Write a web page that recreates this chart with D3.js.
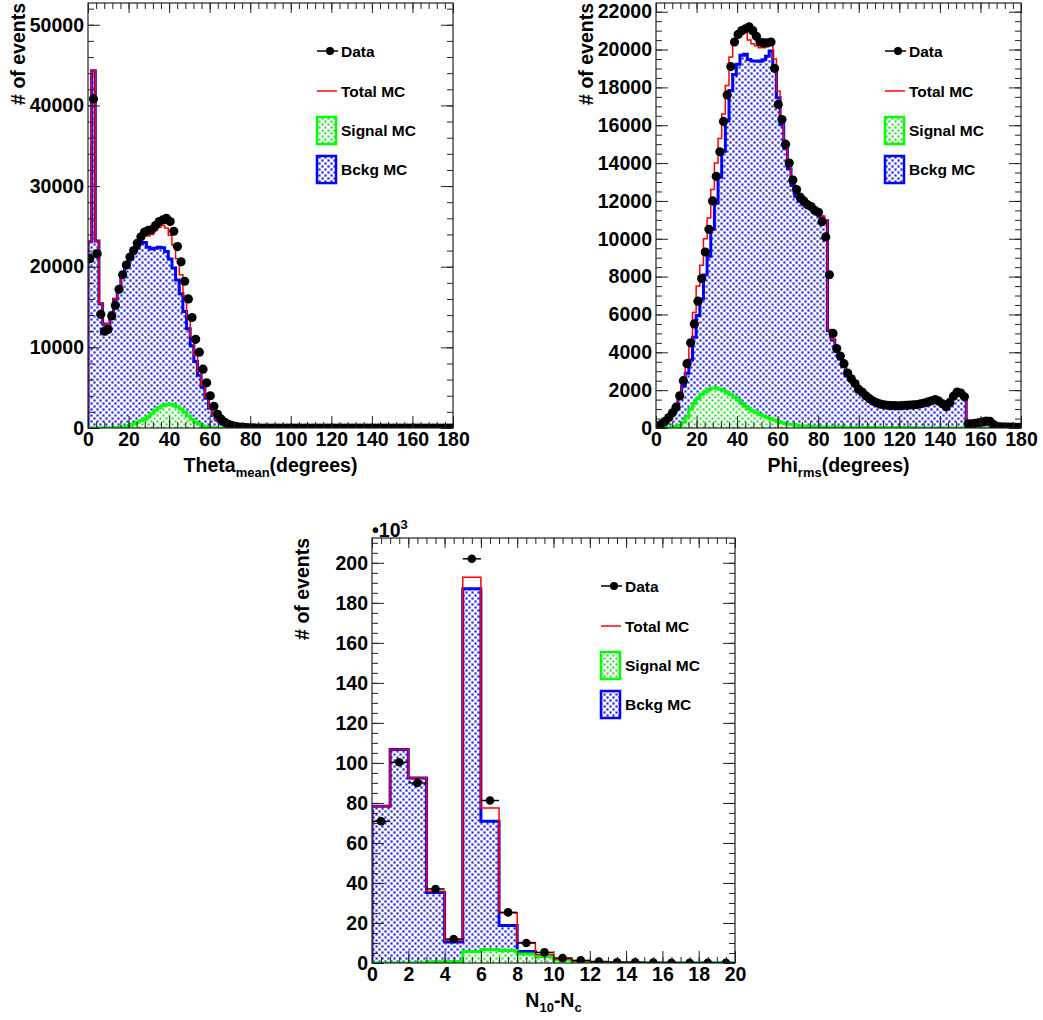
<!DOCTYPE html>
<html><head><meta charset="utf-8">
<script src="https://cdn.jsdelivr.net/npm/d3@7"></script>
<style>
body{margin:0;background:#fff;}
svg text{font-family:"Liberation Sans",Arial,sans-serif;font-weight:bold;fill:#000;}
</style></head><body>
<svg id="c" width="1043" height="1020"></svg>
<script>
// ---------- Theta_mean panel (100 bins, 0-180 deg) ----------
const thetaData = [21000,40800,21600,14100,12000,12200,13900,15200,17200,19000,20200,21200,22000,22900,23700,24300,24500,24600,25100,25600,25800,26000,25600,24400,22500,20600,18200,16000,13700,11000,9400,7300,5600,4000,2700,1700,1100,700,450,300,200,120,80,50,30,20,
0,0,0,0,0,0,0,0,0,0,0,0,0,0,0,0,0,0,0,0,0,0,0,0,0,0,0,0,0,0,0,0,0,0,0,0,0,0,0,0,0,0,0,0,0,0,0,0,0,0,0,0,0,0];
const thetaTotal = [23100,44300,23200,15400,12900,12800,14300,16000,17300,19200,20400,21300,22300,23000,23800,24100,23800,24000,24500,24900,25100,24800,23900,22700,21000,19000,16400,13800,11300,9000,7000,5300,3800,2500,1600,1000,600,400,250,150,100,70,50,30,20,10,
0,0,0,0,0,0,0,0,0,0,0,0,0,0,0,0,0,0,0,0,0,0,0,0,0,0,0,0,0,0,0,0,0,0,0,0,0,0,0,0,0,0,0,0,0,0,0,0,0,0,0,0,0,0];
const thetaSignal = [0,0,0,0,10,20,30,50,70,100,200,300,500,700,900,1100,1400,1800,2200,2500,2750,2900,2950,2850,2650,2350,1950,1500,1100,750,450,250,120,60,30,10,0,0,0,0,0,0,0,0,0,0,
0,0,0,0,0,0,0,0,0,0,0,0,0,0,0,0,0,0,0,0,0,0,0,0,0,0,0,0,0,0,0,0,0,0,0,0,0,0,0,0,0,0,0,0,0,0,0,0,0,0,0,0,0,0];
const thetaBkg = [23100,44300,23200,15400,12890,12780,14270,15950,17230,19100,20200,21000,21800,22300,22900,23000,22400,22200,22300,22400,22350,21900,20950,19850,18350,16650,14450,12300,10200,8250,6550,5050,3680,2440,1570,990,600,400,250,150,100,70,50,30,20,10,
0,0,0,0,0,0,0,0,0,0,0,0,0,0,0,0,0,0,0,0,0,0,0,0,0,0,0,0,0,0,0,0,0,0,0,0,0,0,0,0,0,0,0,0,0,0,0,0,0,0,0,0,0,0];

// ---------- Phi_rms panel (100 bins, 0-180 deg) ----------
const phiData = [120,200,350,550,800,1100,1700,2500,3400,4500,5500,6700,7900,9300,10500,12000,13300,14600,16200,17600,19100,20400,20800,21000,21100,21200,21000,20700,20400,20350,20350,20400,19000,17100,16300,15000,14000,13100,12600,12200,12000,11800,11700,11500,11400,10900,10100,8100,5000,4200,
3800,3400,2900,2600,2350,2050,1900,1700,1550,1420,1330,1260,1220,1200,1180,1180,1170,1190,1200,1210,1220,1240,1280,1320,1380,1440,1500,1420,1280,1120,1350,1680,1900,1850,1650,220,220,250,280,320,360,350,180,80,60,50,50,50,40,40];
const phiTotal = [150,200,350,500,850,1200,1700,2500,3500,4600,6100,7500,8600,10000,11100,12600,14000,15300,16600,18100,19600,20300,20700,21000,20900,20500,20300,20200,20100,20100,20200,20400,19500,17800,16300,15000,13900,13000,12400,12100,11900,11800,11700,11600,11400,11200,11000,5200,4700,4100,
3700,3300,2800,2550,2300,2000,1850,1670,1500,1380,1300,1230,1200,1180,1150,1150,1150,1170,1180,1180,1180,1200,1250,1290,1350,1400,1460,1400,1250,1080,1300,1650,1850,1800,1600,200,200,220,260,300,350,330,150,50,40,40,40,40,40,40];
const phiSignal = [0,0,10,20,40,80,150,300,600,1000,1300,1550,1780,1920,2030,2100,2120,2050,1970,1880,1760,1620,1480,1300,1150,1020,900,800,720,640,560,480,420,350,280,240,200,180,150,120,100,90,80,70,60,50,50,50,50,50,
50,45,45,45,40,40,40,40,35,35,35,30,30,30,30,25,25,25,25,20,20,0,0,0,0,0,0,0,0,0,0,0,0,0,0,0,0,0,0,0,0,0,0,0,0,0,0,0,0,0];
const phiBkg = [150,200,340,480,810,1120,1550,2200,2900,3600,4800,5950,6820,8080,9070,10500,11880,13250,14630,16220,17840,18680,19220,19700,19750,19480,19400,19400,19380,19460,19640,19920,19080,17450,16020,14760,13700,12820,12250,11980,11800,11710,11620,11530,11340,11150,10950,5150,4650,4050,
3650,3255,2755,2505,2260,1960,1810,1630,1465,1345,1265,1200,1170,1150,1120,1125,1125,1145,1155,1160,1160,1200,1250,1290,1350,1400,1460,1400,1250,1080,1300,1650,1850,1800,1600,200,200,220,260,300,350,330,150,50,40,40,40,40,40,40];

// ---------- N10-Nc panel (20 bins, 0-20) ----------
const nData   = [70800,100300,90000,37000,12000,202000,81200,25300,10000,5300,2500,1300,700,400,300,200,150,100,100,100];
const nTotal  = [78300,106700,92500,35800,11300,192800,77500,25000,10300,4200,2000,1000,500,300,200,100,100,50,50,30];
const nSignal = [0,0,100,600,800,5800,6700,6200,4500,3300,1500,800,400,200,100,50,50,20,20,10];
const nBkg    = [78300,106700,92400,35200,10500,187000,70800,18800,5800,900,500,200,100,100,100,50,50,30,30,20];

// tick labels
const thetaXTicks = [0,20,40,60,80,100,120,140,160,180];
const thetaYTicks = [0,10000,20000,30000,40000,50000];
const phiXTicks = [0,20,40,60,80,100,120,140,160,180];
const phiYTicks = [0,2000,4000,6000,8000,10000,12000,14000,16000,18000,20000,22000];
const nXTicks = [0,2,4,6,8,10,12,14,16,18,20];
const nYTicks = [0,20000,40000,60000,80000,100000,120000,140000,160000,180000,200000];
const legendLabels = ["Data","Total MC","Signal MC","Bckg MC"];

const svg = d3.select("#c");
const defs = svg.append("defs");
function makePattern(id, light, dark){
  const p = defs.append("pattern").attr("id",id).attr("patternUnits","userSpaceOnUse").attr("width",6).attr("height",6);
  p.append("rect").attr("width",6).attr("height",6).attr("fill","#fff");
  p.append("rect").attr("x",0).attr("y",0).attr("width",3).attr("height",3).attr("fill",light);
  p.append("rect").attr("x",3).attr("y",3).attr("width",3).attr("height",3).attr("fill",light);
  p.append("rect").attr("x",0.75).attr("y",0.75).attr("width",1.5).attr("height",1.5).attr("fill",dark);
  p.append("rect").attr("x",3.75).attr("y",3.75).attr("width",1.5).attr("height",1.5).attr("fill",dark);
}
makePattern("pBlue","#aaaaff","#1a1ae6");
makePattern("pGreen","#b0f5b0","#28d828");

function range(a,b,s){const r=[];for(let v=a;v<=b+1e-9;v+=s)r.push(+v.toFixed(6));return r;}

let clipId=0;
function panel(c){
  const L=c.L,R=c.R,T=c.T,B=c.B;
  const x=d3.scaleLinear().domain(c.xDom).range([L,R]);
  const y=d3.scaleLinear().domain([0,c.yMax]).range([B,T]);
  const g=svg.append("g");
  const cid="clip"+(clipId++);
  defs.append("clipPath").attr("id",cid).append("rect").attr("x",L).attr("y",T).attr("width",R-L).attr("height",B-T);
  const n=c.data.length, w=(c.xDom[1]-c.xDom[0])/n;
  const lo=i=>c.xDom[0]+i*w, hi=i=>c.xDom[0]+(i+1)*w;
  function steps(vals){
    const pts=[[x(c.xDom[0]),y(0)]];
    vals.forEach((v,i)=>{pts.push([x(lo(i)),y(v)]);pts.push([x(hi(i)),y(v)]);});
    pts.push([x(c.xDom[1]),y(0)]);
    return pts;
  }
  const line=d3.line();
  const hg=g.append("g").attr("clip-path",`url(#${cid})`);
  hg.append("path").attr("d",line(steps(c.bkg))+"Z").attr("fill","url(#pBlue)").attr("stroke","none");
  hg.append("path").attr("d",line(steps(c.bkg))).attr("fill","none").attr("stroke","#0000ff").attr("stroke-width",3).attr("stroke-linejoin","miter");
  hg.append("path").attr("d",line(steps(c.signal))+"Z").attr("fill","url(#pGreen)").attr("stroke","none");
  hg.append("path").attr("d",line(steps(c.signal))).attr("fill","none").attr("stroke","#00ff00").attr("stroke-width",3);
  hg.append("path").attr("d",line(steps(c.total))).attr("fill","none").attr("stroke","#ff0000").attr("stroke-width",1.5);
  const dg=g.append("g").attr("clip-path",`url(#${cid})`);
  c.data.forEach((v,i)=>{
    if(c.errX){
      dg.append("line").attr("x1",x(lo(i))).attr("x2",x(hi(i))).attr("y1",y(v)).attr("y2",y(v)).attr("stroke","#000").attr("stroke-width",1.5);
    }
    dg.append("circle").attr("cx",x((lo(i)+hi(i))/2)).attr("cy",y(v)).attr("r",c.r).attr("fill","#000");
  });
  // axes
  const ax=g.append("g");
  const xMinor=range(c.xDom[0],c.xDom[1],c.xMinor), yMinor=range(0,c.yMax,c.yMinor);
  const xt=12, xm=6, yt=12, ym=6;
  ax.append("g").attr("transform",`translate(0,${B})`).call(d3.axisBottom(x).tickValues(xMinor).tickSizeInner(-xm).tickSizeOuter(0).tickFormat(""));
  ax.append("g").attr("transform",`translate(0,${B})`).call(d3.axisBottom(x).tickValues(c.xTicks).tickSizeInner(-xt).tickSizeOuter(0).tickPadding(4).tickFormat(d3.format("d")));
  ax.append("g").attr("transform",`translate(0,${T})`).call(d3.axisTop(x).tickValues(xMinor).tickSizeInner(-xm).tickSizeOuter(0).tickFormat(""));
  ax.append("g").attr("transform",`translate(0,${T})`).call(d3.axisTop(x).tickValues(c.xTicks).tickSizeInner(-xt+2).tickSizeOuter(0).tickFormat(""));
  ax.append("g").attr("transform",`translate(${L},0)`).call(d3.axisLeft(y).tickValues(yMinor).tickSizeInner(-ym).tickSizeOuter(0).tickFormat(""));
  ax.append("g").attr("transform",`translate(${L},0)`).call(d3.axisLeft(y).tickValues(c.yTicks).tickSizeInner(-yt).tickSizeOuter(0).tickPadding(4).tickFormat(c.yFmt));
  ax.append("g").attr("transform",`translate(${R},0)`).call(d3.axisRight(y).tickValues(yMinor).tickSizeInner(-ym).tickSizeOuter(0).tickFormat(""));
  ax.append("g").attr("transform",`translate(${R},0)`).call(d3.axisRight(y).tickValues(c.yTicks).tickSizeInner(-yt).tickSizeOuter(0).tickFormat(""));
  ax.selectAll(".domain").remove();
  ax.selectAll(".tick line").attr("stroke","#222").attr("stroke-width",1);
  ax.selectAll(".tick text").attr("font-size",19.5).attr("font-family","Liberation Sans, Arial, sans-serif").attr("font-weight","bold").attr("fill","#000");
  g.append("rect").attr("x",L).attr("y",T).attr("width",R-L).attr("height",B-T).attr("fill","none").attr("stroke","#222").attr("stroke-width",1.2);
  // titles
  g.append("text").attr("transform",`translate(${L-70},${T})rotate(-90)`).attr("text-anchor","end").attr("dy","0.36em").attr("font-size",19.5).text("# of events");
  const xtT=g.append("text").attr("x",(L+R)/2).attr("y",B+44).attr("text-anchor","middle").attr("font-size",19.5);
  c.xTitle(xtT);
  // legend
  const lx=L+228, ly=T;
  const lg=g.append("g");
  lg.append("line").attr("x1",lx+1).attr("x2",lx+22).attr("y1",ly+48).attr("y2",ly+48).attr("stroke","#000").attr("stroke-width",1.5);
  lg.append("circle").attr("cx",lx+14).attr("cy",ly+48).attr("r",4).attr("fill","#000");
  lg.append("line").attr("x1",lx+1).attr("x2",lx+21).attr("y1",ly+88).attr("y2",ly+88).attr("stroke","#ff0000").attr("stroke-width",1.5);
  lg.append("rect").attr("x",lx+1).attr("y",ly+114).attr("width",19).attr("height",27).attr("fill","url(#pGreen)").attr("stroke","#00ff00").attr("stroke-width",2.5);
  lg.append("rect").attr("x",lx+1).attr("y",ly+153).attr("width",19).attr("height",27).attr("fill","url(#pBlue)").attr("stroke","#0000ff").attr("stroke-width",2.5);
  [48,88,127,166].forEach((dy,i)=>{
    lg.append("text").attr("x",lx+25).attr("y",ly+dy).attr("dy","0.36em").attr("font-size",15.5).text(legendLabels[i]);
  });
  return {x,y,g};
}

panel({L:88,R:453,T:3,B:428,xDom:[0,180],yMax:52700,data:thetaData,total:thetaTotal,signal:thetaSignal,bkg:thetaBkg,
  xTicks:thetaXTicks,yTicks:thetaYTicks,xMinor:4,yMinor:2000,yFmt:d3.format("d"),r:4.6,errX:false,
  xTitle:t=>{t.append("tspan").text("Theta");t.append("tspan").attr("font-size",13).attr("dy",5).text("mean");t.append("tspan").attr("dy",-5).text("(degrees)");}});
panel({L:656,R:1021,T:3,B:428,xDom:[0,180],yMax:22460,data:phiData,total:phiTotal,signal:phiSignal,bkg:phiBkg,
  xTicks:phiXTicks,yTicks:phiYTicks,xMinor:4,yMinor:500,yFmt:d3.format("d"),r:4.6,errX:false,
  xTitle:t=>{t.append("tspan").text("Phi");t.append("tspan").attr("font-size",13).attr("dy",5).text("rms");t.append("tspan").attr("dy",-5).text("(degrees)");}});
panel({L:372,R:735,T:538,B:963,xDom:[0,20],yMax:212400,data:nData,total:nTotal,signal:nSignal,bkg:nBkg,
  xTicks:nXTicks,yTicks:nYTicks,xMinor:0.5,yMinor:5000,yFmt:d=>d3.format("d")(d/1000),r:4.3,errX:true,
  xTitle:t=>{t.append("tspan").text("N");t.append("tspan").attr("font-size",13).attr("dy",5).text("10");t.append("tspan").attr("dy",-5).text("-N");t.append("tspan").attr("font-size",13).attr("dy",5).text("c");}});
// exponent label
const ex=svg.append("text").attr("x",372).attr("y",537).attr("font-size",19.5);
ex.append("tspan").text("\u2022");
ex.append("tspan").text("10");
ex.append("tspan").attr("font-size",13).attr("dy",-8).text("3");
</script>
</body></html>
